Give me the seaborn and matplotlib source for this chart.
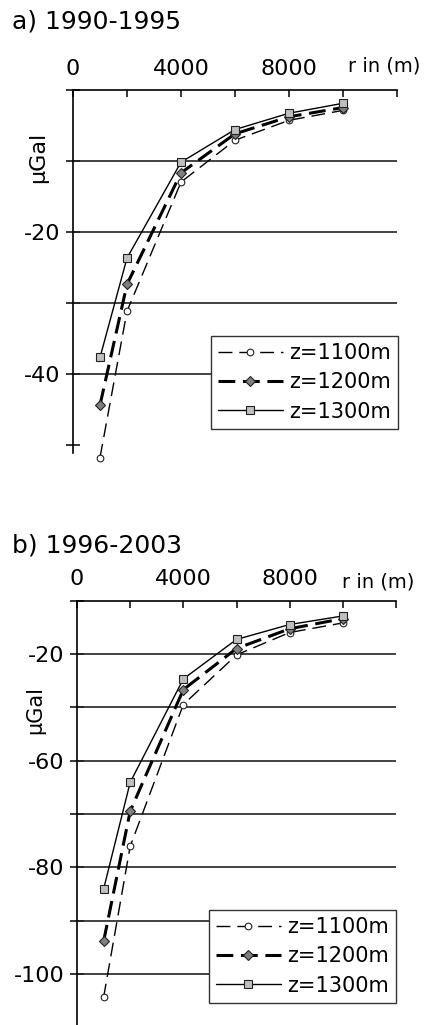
import numpy as np
import pandas as pd
import matplotlib
matplotlib.use("Agg")
import matplotlib.pyplot as plt
import seaborn as sns

# ── Data ────────────────────────────────────────────────
R_M = [1000, 2000, 4000, 6000, 8000, 10000]
SERIES = ["z=1100m", "z=1200m", "z=1300m"]

# a) 1990-1995, gravity change in µGal
A_Z1100 = [-51.7, -31.1, -12.9, -7.0, -4.2, -2.8]
A_Z1200 = [-44.3, -27.3, -11.6, -6.1, -3.7, -2.4]
A_Z1300 = [-37.6, -23.6, -10.1, -5.5, -3.2, -1.8]

# b) 1996-2003
B_Z1100 = [-104.4, -76.1, -49.5, -40.2, -36.0, -34.2]
B_Z1200 = [-93.9, -69.5, -46.7, -39.0, -35.3, -33.4]
B_Z1300 = [-84.1, -64.1, -44.7, -37.3, -34.5, -32.9]

X_TICKS = [0, 2000, 4000, 6000, 8000, 10000, 12000]
X_TICK_LABELS = ["0", "", "4000", "", "8000", "", ""]

A_Y_TICKS = [0, -10, -20, -30, -40, -50]
A_Y_TICK_LABELS = ["", "", "-20", "", "-40", ""]
A_GRID = [-10, -20, -30, -40]

# labels as printed in the original figure
B_Y_TICKS = [-30, -40, -50, -60, -70, -80, -90, -100, -110]
B_Y_TICK_LABELS = ["", "-20", "", "-60", "", "-80", "", "-100", ""]
B_GRID = [-40, -50, -60, -70, -80, -90, -100]
# ────────────────────────────────────────────────────────

STYLES = {
    "z=1100m": dict(lw=1.0, ls=(0, (10, 5)), marker="o", ms=4.8, mfc="white"),
    "z=1200m": dict(lw=2.2, ls=(0, (5.5, 2.5)), marker="D", ms=5.5, mfc="#7f7f7f"),
    "z=1300m": dict(lw=1.0, ls="-", marker="s", ms=6.0, mfc="#bfbfbf"),
}

sns.set_theme(style="white")
plt.rcParams["font.family"] = ["DejaVu Sans"]
plt.rcParams["text.color"] = "black"
plt.rcParams["axes.labelcolor"] = "black"
plt.rcParams["xtick.color"] = "black"
plt.rcParams["ytick.color"] = "black"

fig = plt.figure(figsize=(4.25, 10.25), dpi=100)
W, H = 425, 1025


def px_axes(left, top, right, bottom):
    return fig.add_axes([left / W, 1 - bottom / H, (right - left) / W, (bottom - top) / H])


def draw_panel(ax, values, yticks, ylabels, grid, ylim, ylab_pos, ylab_size, legend_corner):
    df = pd.DataFrame({
        "r": R_M * len(SERIES),
        "dg": np.concatenate(values),
        "z": np.repeat(SERIES, len(R_M)),
    })
    ax.hlines(grid, 0, 12000, color="#222222", lw=1.2, zorder=1)
    for name in SERIES:
        st = STYLES[name]
        sns.lineplot(data=df[df["z"] == name], x="r", y="dg", ax=ax, label=name,
                     color="black", lw=st["lw"], linestyle=st["ls"],
                     marker=st["marker"], markersize=st["ms"],
                     markerfacecolor=st["mfc"], markeredgecolor="#222222",
                     markeredgewidth=0.8, clip_on=False, zorder=3)

    ax.set_xlim(0, 12000)
    ax.set_ylim(*ylim)
    ax.xaxis.tick_top()
    ax.set_xticks(X_TICKS, X_TICK_LABELS)
    ax.set_yticks(yticks, ylabels)
    ax.tick_params(axis="x", direction="in", length=5, width=1.1, pad=8,
                   labelsize=16, colors="black")
    ax.tick_params(axis="y", direction="inout", length=10, width=1.1, pad=4,
                   labelsize=16, colors="black", left=True)
    ax.set_xlabel("")
    ax.set_ylabel("µGal", fontsize=ylab_size, color="black")
    ax.yaxis.set_label_coords(*ylab_pos)

    for side in ["bottom", "right"]:
        ax.spines[side].set_visible(False)
    for side in ["top", "left"]:
        ax.spines[side].set_color("black")
        ax.spines[side].set_linewidth(1.2)

    leg = ax.legend(loc="lower right", bbox_to_anchor=(legend_corner[0] / W, 1 - legend_corner[1] / H),
                    bbox_transform=fig.transFigure, fontsize=15, frameon=True,
                    fancybox=False, framealpha=1, edgecolor="#333333",
                    handlelength=3.1, handletextpad=0.3, labelspacing=0.45,
                    borderpad=0.35, borderaxespad=0)
    leg.get_frame().set_linewidth(1.0)
    for t in leg.get_texts():
        t.set_color("black")


# a) 1990-1995
ax_a = px_axes(73, 90.5, 397, 452.6)
draw_panel(ax_a, [A_Z1100, A_Z1200, A_Z1300], A_Y_TICKS, A_Y_TICK_LABELS, A_GRID,
           (-51, 0), (-0.077, 0.816), 16, (398, 429))

# b) 1996-2003
ax_b = px_axes(77, 600.5, 396, 1027.3)
draw_panel(ax_b, [B_Z1100, B_Z1200, B_Z1300], B_Y_TICKS, B_Y_TICK_LABELS, B_GRID,
           (-110, -30), (-0.1, 0.744), 15, (396, 1003))

fig.text(12 / W, 1 - 22 / H, "a) 1990-1995", fontsize=18, ha="left", va="center", color="black")
fig.text(12 / W, 1 - 545 / H, "b) 1996-2003", fontsize=18, ha="left", va="center", color="black")
fig.text(384 / W, 1 - 66 / H, "r in (m)", fontsize=14, ha="center", va="center", color="black")
fig.text(378 / W, 1 - 582 / H, "r in (m)", fontsize=14, ha="center", va="center", color="black")

fig.savefig("out.png", dpi=100)
plt.close(fig)
